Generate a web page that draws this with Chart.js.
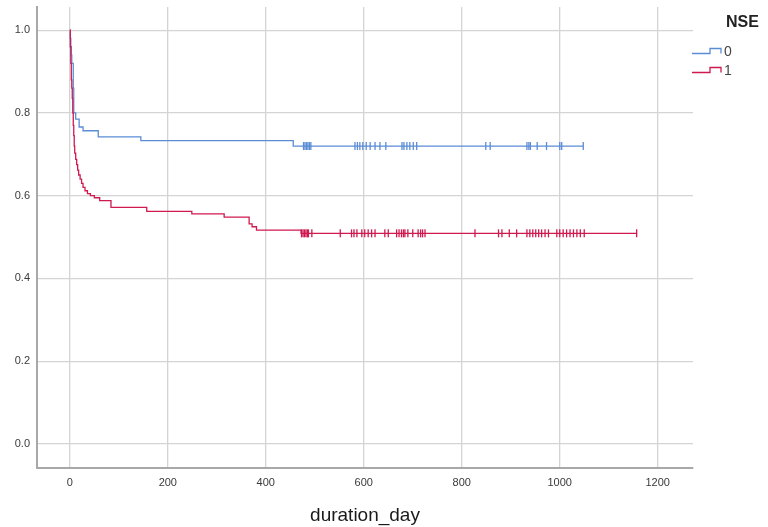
<!DOCTYPE html>
<html>
<head>
<meta charset="utf-8">
<script src="https://cdn.jsdelivr.net/npm/chart.js@4/dist/chart.umd.min.js"></script>
<style>
  body { margin: 0; background: #fff; }
  #wrap { width: 768px; height: 527px; position: relative; }
</style>
</head>
<body>
<div id="wrap"><canvas id="km-chart"></canvas></div>
<script>
// NSE = 0 : event times and survival after each step
const nse0Times = [0, 1, 2, 3, 4, 7, 8, 12, 19, 27, 58, 145, 456];
const nse0Surv = [1.0, 0.98, 0.96, 0.94, 0.92, 0.86, 0.8, 0.785, 0.766, 0.757, 0.742, 0.733, 0.72];
const nse0Censored = [477, 480, 483, 486, 489, 492, 582, 587, 592, 598, 605, 613, 623, 633, 645,
  678, 682, 688, 694, 701, 708, 849, 858, 933, 937, 940, 954, 973, 1000, 1004, 1048];

// NSE = 1
const nse1Times = [0, 1, 2, 3, 4, 5, 6, 7, 8, 9, 10, 12, 14, 16, 18, 21, 24, 27, 31, 36, 42, 50, 61,
  84, 157, 249, 315, 366, 372, 381, 472];
const nse1Surv = [1.0, 0.96, 0.92, 0.88, 0.86, 0.835, 0.8, 0.77, 0.745, 0.72, 0.703, 0.688, 0.675,
  0.662, 0.65, 0.64, 0.63, 0.62, 0.612, 0.605, 0.6, 0.595, 0.588, 0.572, 0.562, 0.556, 0.548,
  0.532, 0.525, 0.517, 0.509];
const nse1Censored = [473, 476, 479, 482, 485, 487, 494, 552, 575, 580, 586, 596, 602, 609, 616, 623,
  643, 650, 667, 672, 677, 681, 684, 690, 700, 711, 716, 720, 725, 827, 875, 882, 897, 912,
  933, 939, 945, 951, 957, 963, 970, 977, 994, 1000, 1007, 1014, 1021, 1028, 1035, 1042, 1050, 1157];

const xTicks = [0, 200, 400, 600, 800, 1000, 1200];
const yTicks = [0, 0.2, 0.4, 0.6, 0.8, 1.0];
const groups = ["0", "1"];

const blue = "#5b8cd6";
const red = "#d0194f";

function survAt(times, surv, t) {
  let s = surv[0];
  for (let i = 0; i < times.length; i++) {
    if (times[i] <= t) s = surv[i];
  }
  return s;
}

function curve(times, surv, censored) {
  const pts = times.map((t, i) => ({ x: t, y: surv[i] }));
  const last = censored[censored.length - 1];
  pts.push({ x: last, y: survAt(times, surv, last) });
  return pts;
}

function marks(times, surv, censored) {
  return censored.map((t) => ({ x: t, y: survAt(times, surv, t) }));
}

const legendPlugin = {
  id: "nseLegend",
  afterDraw(chart) {
    const ctx = chart.ctx;
    ctx.save();
    ctx.fillStyle = "#222";
    ctx.font = "bold 16px 'Liberation Sans', Arial, sans-serif";
    ctx.textBaseline = "middle";
    ctx.fillText("NSE", 726, 23);
    const items = [
      { label: groups[0], color: blue, y: 51 },
      { label: groups[1], color: red, y: 70 },
    ];
    items.forEach((it) => {
      ctx.strokeStyle = it.color;
      ctx.lineWidth = 1.3;
      ctx.beginPath();
      ctx.moveTo(692, it.y + 2.5);
      ctx.lineTo(710, it.y + 2.5);
      ctx.lineTo(710, it.y - 2.5);
      ctx.lineTo(721, it.y - 2.5);
      ctx.lineTo(721, it.y + 2.5);
      ctx.stroke();
      ctx.fillStyle = "#444";
      ctx.font = "14px 'Liberation Sans', Arial, sans-serif";
      ctx.fillText(it.label, 724, it.y + 1);
    });
    ctx.restore();
  },
};

new Chart(document.getElementById("km-chart"), {
  type: "scatter",
  data: {
    datasets: [
      {
        data: curve(nse1Times, nse1Surv, nse1Censored),
        showLine: true,
        stepped: true,
        borderColor: red,
        borderWidth: 1.3,
        pointRadius: 0,
      },
      {
        data: marks(nse1Times, nse1Surv, nse1Censored),
        borderColor: red,
        borderWidth: 1.3,
        pointStyle: "line",
        rotation: 90,
        pointRadius: 4,
      },
      {
        data: curve(nse0Times, nse0Surv, nse0Censored),
        showLine: true,
        stepped: true,
        borderColor: blue,
        borderWidth: 1.3,
        pointRadius: 0,
      },
      {
        data: marks(nse0Times, nse0Surv, nse0Censored),
        borderColor: blue,
        borderWidth: 1.3,
        pointStyle: "line",
        rotation: 90,
        pointRadius: 4,
      },
    ],
  },
  options: {
    responsive: true,
    maintainAspectRatio: false,
    animation: false,
    events: [],
    layout: { padding: { left: 0, top: 7, right: 75, bottom: 0 } },
    plugins: {
      legend: { display: false },
      tooltip: { enabled: false },
    },
    scales: {
      x: {
        type: "linear",
        min: -67,
        max: 1272,
        afterBuildTicks: (scale) => {
          scale.ticks = xTicks.map((v) => ({ value: v }));
        },
        afterFit: (scale) => {
          scale.height = 59;
          scale.paddingLeft = 0;
          scale.paddingRight = 0;
        },
        grid: { color: "#d4d4d4", lineWidth: 1.3, drawTicks: false },
        border: { color: "#a8a8a8", width: 2 },
        ticks: {
          padding: 8,
          color: "#3a3a3a",
          font: { family: "'Liberation Sans', Arial, sans-serif", size: 11 },
          callback: (v) => String(v),
        },
        title: {
          display: true,
          text: "duration_day",
          color: "#1a1a1a",
          padding: { top: 9, bottom: 0 },
          font: { family: "'Liberation Sans', Arial, sans-serif", size: 19 },
        },
      },
      y: {
        type: "linear",
        min: -0.058,
        max: 1.056,
        afterBuildTicks: (scale) => {
          scale.ticks = yTicks.map((v) => ({ value: v }));
        },
        afterFit: (scale) => {
          scale.width = 37;
          scale.paddingTop = 0;
          scale.paddingBottom = 0;
        },
        grid: { color: "#d4d4d4", lineWidth: 1.3, drawTicks: false },
        border: { color: "#a8a8a8", width: 2 },
        ticks: {
          padding: 7,
          color: "#3a3a3a",
          font: { family: "'Liberation Sans', Arial, sans-serif", size: 11 },
          callback: (v) => v.toFixed(1),
        },
      },
    },
  },
  plugins: [legendPlugin],
});
</script>
</body>
</html>
